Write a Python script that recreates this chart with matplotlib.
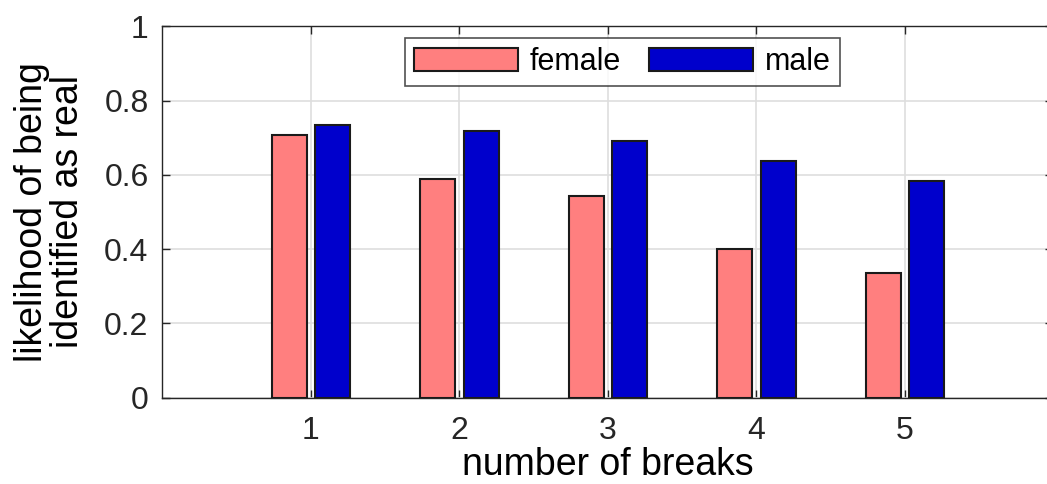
import matplotlib.pyplot as plt
import matplotlib as mpl
import numpy as np

mpl.rcParams['font.family'] = ['Liberation Sans', 'DejaVu Sans']
mpl.rcParams['text.color'] = '#262626'

# number of breaks
breaks = [1, 2, 3, 4, 5]

# likelihood of being identified as real
female = [0.708, 0.589, 0.542, 0.400, 0.336]
male = [0.734, 0.719, 0.690, 0.637, 0.584]

female_color = '#ff7f7f'
male_color = '#0000cc'

fig = plt.figure(figsize=(10.47, 4.84), dpi=100)
ax = fig.add_axes([0.1552, 0.1787, 0.851, 0.767])

x = np.array(breaks)
w = 0.236
ax.bar(x - 0.145, female, width=w, color=female_color, edgecolor='#1a1a1a',
       linewidth=1.5, label='female', zorder=3)
ax.bar(x + 0.145, male, width=w, color=male_color, edgecolor='#1a1a1a',
       linewidth=1.5, label='male', zorder=3)

ax.set_xlim(0, 6)
ax.set_ylim(0, 1)
ax.set_xticks(breaks)
ax.set_yticks([0, 0.2, 0.4, 0.6, 0.8, 1])
ax.set_yticklabels(['0', '0.2', '0.4', '0.6', '0.8', '1'])

ax.grid(True, color='#dedede', linewidth=1.2, zorder=0)
ax.set_axisbelow(True)
for s in ax.spines.values():
    s.set_color('#262626')
    s.set_linewidth(1.0)
ax.tick_params(direction='in', length=6, width=1, colors='#262626',
               labelsize=23, top=True, right=True, pad=10)
ax.tick_params(axis='x', pad=13)

ax.set_xlabel('number of breaks', fontsize=27, labelpad=1)
ax.set_ylabel('likelihood of being\nidentified as real', fontsize=27,
              labelpad=13, linespacing=1.0)

leg = ax.legend(ncol=2, loc='upper center', bbox_to_anchor=(0.516, 0.968),
                fontsize=22, frameon=True, fancybox=False, borderaxespad=0,
                handlelength=3.4, handleheight=0.8, handletextpad=0.4,
                columnspacing=0.9, borderpad=0.3)
leg.get_frame().set_edgecolor('#262626')
leg.get_frame().set_linewidth(1.2)
for t in leg.get_texts():
    t.set_color('black')

fig.savefig('out.png', dpi=100)
